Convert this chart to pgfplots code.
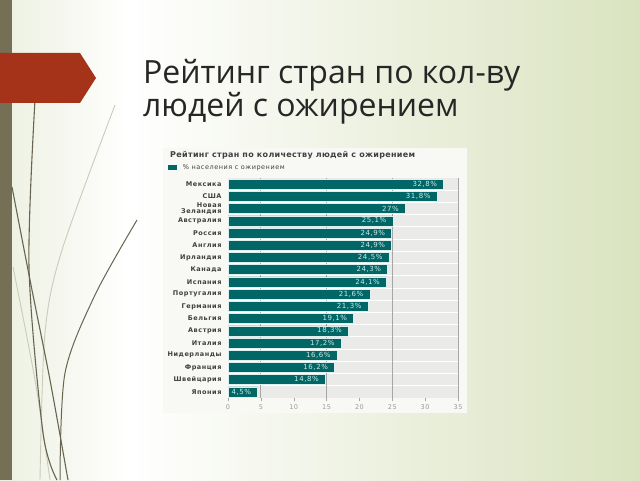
\documentclass[border=0pt]{standalone}
\usepackage{pgfplots}
\pgfplotsset{compat=1.18}
\usepackage{fontspec}
\setmainfont{DejaVu Sans}
\newfontfamily\titlefont{Open Sans}
\newfontfamily\chartfont[LetterSpace=8]{DejaVu Sans}
\newfontfamily\charttitlefont[LetterSpace=4]{DejaVu Sans}
\definecolor{bgl}{RGB}{236,240,224}
\definecolor{bgr}{RGB}{218,227,192}
\definecolor{sidebar}{RGB}{117,111,85}
\definecolor{arrowred}{RGB}{165,51,26}
\definecolor{wispdark}{RGB}{105,100,80}
\definecolor{wisplight}{RGB}{200,204,184}
\definecolor{barteal}{RGB}{0,102,102}
\definecolor{barlabel}{RGB}{207,232,232}
\definecolor{plotbg}{RGB}{234,234,232}
\definecolor{boxbg}{RGB}{248,248,245}
\pgfdeclarehorizontalshading{slidebg}{100bp}{color(0bp)=(bgl); color(25bp)=(bgl); color(35bp)=(white); color(75bp)=(bgr); color(100bp)=(bgr)}
\begin{document}
\begin{tikzpicture}[x=1pt,y=1pt]
\useasboundingbox (0,0) rectangle (640,480);
\shade[shading=slidebg] (0,0) rectangle (640,480);
\fill[sidebar] (0,0) rectangle (12,480);
% wisp lines
\draw[wisplight, line width=0.9pt] plot[smooth] coordinates {(115,375) (62,230) (45,147) (40,0)};
\draw[wisplight, line width=0.9pt] plot[smooth] coordinates {(13,213) (35,100) (50,0)};
\draw[wispdark, line width=1.1pt] plot[smooth] coordinates {(35,380) (29,213) (43,47) (57,0)};
\draw[wispdark, line width=1.1pt] plot[smooth] coordinates {(12,293) (30,200) (50,100) (68,0)};
\draw[wispdark, line width=1pt] plot[smooth] coordinates {(137,260) (95,185) (65,107) (60,0)};
\fill[arrowred] (0,427) -- (80,427) -- (96,402) -- (80,377) -- (0,377) -- cycle;
% slide title
\node[anchor=base west, inner sep=0pt, text=black!85] at (143,396) {\titlefont\fontsize{32}{36}\selectfont Рейтинг стран по кол-ву};
\node[anchor=base west, inner sep=0pt, text=black!85] at (143,363) {\titlefont\fontsize{32}{36}\selectfont людей с ожирением};
% chart box
\fill[boxbg] (163,67) rectangle (467,332);
\node[anchor=west, inner sep=0pt, text=black!75] at (170,325) {\charttitlefont\bfseries\fontsize{8}{9}\selectfont Рейтинг стран по количеству людей с ожирением};
\begin{axis}[
  at={(228pt,82pt)}, anchor=south west,
  scale only axis, width=230pt, height=220pt,
  xbar, bar width=10pt,
  xmin=0, xmax=35, ymin=-0.5, ymax=17.5, y dir=reverse,
  axis background/.style={fill=plotbg},
  axis line style={draw=none},
  ytick={0,...,17},
  yticklabels={Мексика,США,{Новая\\Зеландия},Австралия,Россия,Англия,Ирландия,Канада,Испания,Португалия,Германия,Бельгия,Австрия,Италия,Нидерланды,Франция,Швейцария,Япония},
  yticklabel style={font=\chartfont\bfseries\fontsize{6.5}{6.6}\selectfont, text=black!75, align=right},
  ytick style={draw=none},
  minor ytick={0.5,1.5,...,16.5},
  minor tick length=0pt,
  yminorgrids, minor grid style={white, line width=1pt},
  xtick={0,5,...,35},
  xtick pos=bottom, tick align=outside,
  major tick length=3pt,
  xtick style={gray!70},
  xticklabel style={font=\chartfont\fontsize{6.5}{7}\selectfont, text=gray!80},
  /pgf/number format/assume math mode=true,
  extra x ticks={5,15,25,35},
  extra x tick labels={},
  extra x tick style={grid=major, major grid style={gray!70, line width=0.8pt}, tick style={draw=none}},
  nodes near coords={\pgfmathprintnumber[use comma,fixed,precision=1]{\pgfplotspointmeta}\%},
  nodes near coords style={anchor=east, xshift=-3pt, font=\chartfont\fontsize{7}{7}\selectfont, text=barlabel},
  legend style={at={(-0.262,1.07)}, anchor=north west, draw=none, fill=none,
    font=\chartfont\fontsize{6.5}{7}\selectfont, text=black!75, inner sep=0pt},
  legend image code/.code={\path[draw=none, fill=barteal] (0pt,-2.5pt) rectangle (9pt,2.5pt); \path[draw=none, fill=none] (0pt,0pt) -- (13pt,0pt);},
]
\addplot[fill=barteal, draw=barlabel!70, line width=0.4pt] coordinates {
(32.8,0) (31.8,1) (27,2) (25.1,3) (24.9,4) (24.9,5) (24.5,6) (24.3,7) (24.1,8)
(21.6,9) (21.3,10) (19.1,11) (18.3,12) (17.2,13) (16.6,14) (16.2,15) (14.8,16) (4.5,17)};
\addlegendentry{\% населения с ожирением}
\end{axis}
\end{tikzpicture}
\end{document}
